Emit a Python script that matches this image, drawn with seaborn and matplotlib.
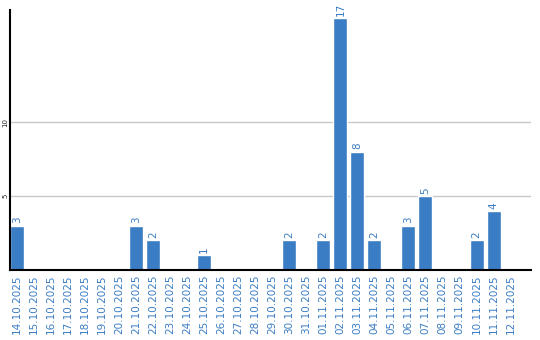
import matplotlib
matplotlib.use("Agg")
import matplotlib.pyplot as plt
import seaborn as sns
import pandas as pd

dates = ["14.10.2025", "15.10.2025", "16.10.2025", "17.10.2025", "18.10.2025",
         "19.10.2025", "20.10.2025", "21.10.2025", "22.10.2025", "23.10.2025",
         "24.10.2025", "25.10.2025", "26.10.2025", "27.10.2025", "28.10.2025",
         "29.10.2025", "30.10.2025", "31.10.2025", "01.11.2025", "02.11.2025",
         "03.11.2025", "04.11.2025", "05.11.2025", "06.11.2025", "07.11.2025",
         "08.11.2025", "09.11.2025", "10.11.2025", "11.11.2025", "12.11.2025"]
counts = [3, 0, 0, 0, 0, 0, 0, 3, 2, 0, 0, 1, 0, 0, 0, 0, 2, 0, 2, 17,
          8, 2, 0, 3, 5, 0, 0, 2, 4, 0]
yticks = [5, 10]

blue = "#3b7dc4"
sns.set_style("white")
plt.rcParams['font.family'] = ['DejaVu Sans']

df = pd.DataFrame({"date": dates, "count": counts})
fig = plt.figure(figsize=(5.4, 3.4), dpi=100)
ax = fig.add_axes([10/540, 1 - 270/340, 521/540, 260/340])
sns.barplot(data=df, x="date", y="count", color=blue, saturation=1, width=0.82, ax=ax, zorder=3)

ax.set_xlim(-0.41, 30.2)
ax.set_ylim(0, 17.57)
ax.set_yticks(yticks)
ax.set_yticklabels([str(t) for t in yticks], rotation=90, fontsize=5, va="center")
ax.tick_params(axis="y", length=0, pad=1)
ax.tick_params(axis="x", length=0, pad=3, labelrotation=90, labelsize=7.5, labelcolor=blue)
for lbl in ax.get_xticklabels():
    lbl.set_va("top")
ax.grid(axis="y", color="#c8c8c8", linewidth=1, zorder=0)
ax.set_xlabel("")
ax.set_ylabel("")
for s in ["top", "right"]:
    ax.spines[s].set_visible(False)
for s in ["left", "bottom"]:
    ax.spines[s].set_color("black")
    ax.spines[s].set_linewidth(1.5)
    ax.spines[s].set_zorder(4)

for i, v in enumerate(counts):
    if v > 0:
        ax.text(i, v + 0.15, str(v), rotation=90, ha="center", va="bottom",
                color=blue, fontsize=7.5)

fig.savefig("out.png", dpi=100)
